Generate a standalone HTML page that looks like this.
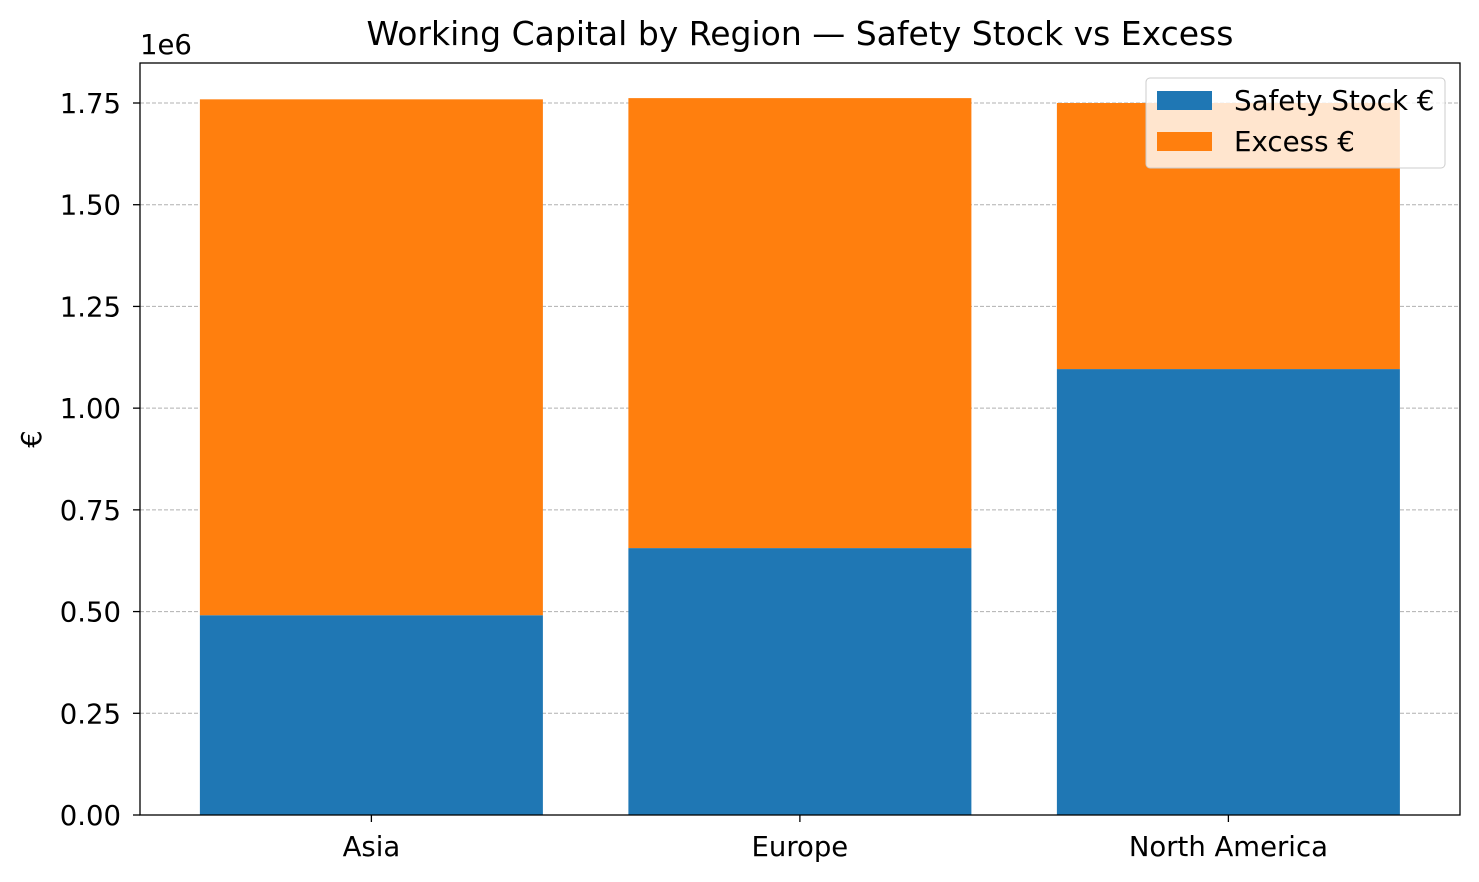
<!DOCTYPE html>
<html><head><meta charset="utf-8"><style>
body{margin:0;background:#fff;}
svg{display:block;font-family:"DejaVu Sans","Liberation Sans",sans-serif;}
</style></head><body>
<svg id="chart" width="1479" height="882">
<rect width="1479" height="882" fill="#fff"/>
<g id="grid"></g><g id="bars"></g><g id="axes"></g>
</svg>
<script>
const categories=["Asia","Europe","North America"];
const safetyStock=[491000,656000,1096000];
const excess=[1268000,1106000,654000];
const yTicks=[0,250000,500000,750000,1000000,1250000,1500000,1750000];
const yTickLabels=["0.00","0.25","0.50","0.75","1.00","1.25","1.50","1.75"];
const L=140,R=1460,T=63,B=815;
const yScale=v=>B-(v/1750000)*(B-103);
const xScale=i=>L+(i+0.54)*428.5;
const bw=343;
const NS="http://www.w3.org/2000/svg";
function mk(tag,attrs,parent,text){const e=document.createElementNS(NS,tag);for(const k in attrs)e.setAttribute(k,attrs[k]);if(text!==undefined)e.textContent=text;parent.appendChild(e);return e;}
const svg=document.getElementById('chart'),grid=document.getElementById('grid'),bars=document.getElementById('bars'),axes=document.getElementById('axes');
yTicks.forEach((t,i)=>{const y=yScale(t);
const g=mk('line',{x1:L,x2:R,y1:y,y2:y,stroke:'#b0b0b0','stroke-width':1,'stroke-dasharray':'4,2'},grid);


const tk=mk('line',{x1:L-7,x2:L,y1:y,y2:y,stroke:'#000','stroke-width':1.3},axes);


const lb=mk('text',{x:L-19,y:y+10,'text-anchor':'end','font-size':27.5},axes,yTickLabels[i]);

});
categories.forEach((c,i)=>{const cx=xScale(i);
const b1=mk('rect',{x:cx-bw/2,y:yScale(safetyStock[i]),width:bw,height:B-yScale(safetyStock[i]),fill:'#1f77b4'},bars);


const top=safetyStock[i]+excess[i];
const b2=mk('rect',{x:cx-bw/2,y:yScale(top),width:bw,height:yScale(safetyStock[i])-yScale(top),fill:'#ff7f0e'},bars);


const tk=mk('line',{x1:cx,x2:cx,y1:B,y2:B+7,stroke:'#000','stroke-width':1.3},axes);


const lb=mk('text',{x:cx,y:B+41,'text-anchor':'middle','font-size':27.5},axes,c);

});
const fr=mk('rect',{x:L,y:T,width:R-L,height:B-T,fill:'none',stroke:'#000','stroke-width':1.3},axes);


</script>
<svg style="position:absolute;left:0;top:0" width="1479" height="882">
<text x="800" y="45" text-anchor="middle" font-size="33" font-family="DejaVu Sans,Liberation Sans,sans-serif">Working Capital by Region — Safety Stock vs Excess</text>
<text x="140" y="54" font-size="27.5" font-family="DejaVu Sans,Liberation Sans,sans-serif">1e6</text>
<text x="41" y="439" text-anchor="middle" font-size="27.5" font-family="DejaVu Sans,Liberation Sans,sans-serif" transform="rotate(-90 41 439)">€</text>
<g>
<rect x="1146" y="78" width="299" height="90" rx="4" fill="#fff" fill-opacity="0.8" stroke="#ccc"/>
<rect x="1157" y="91" width="55" height="19" fill="#1f77b4"/>
<text x="1234" y="110" font-size="27.7" font-family="DejaVu Sans,Liberation Sans,sans-serif">Safety Stock €</text>
<rect x="1157" y="132" width="55" height="19" fill="#ff7f0e"/>
<text x="1234" y="151" font-size="27.7" font-family="DejaVu Sans,Liberation Sans,sans-serif">Excess €</text>
</g>
</svg>
</body></html>
